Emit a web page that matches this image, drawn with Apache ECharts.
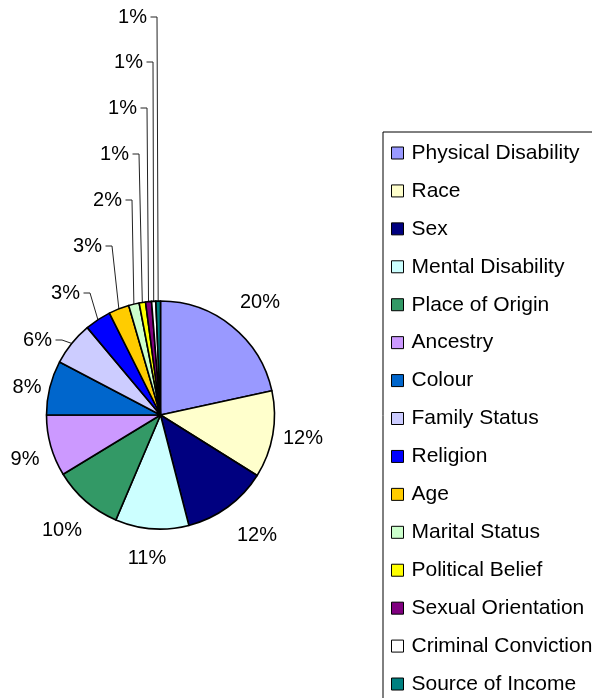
<!DOCTYPE html>
<html>
<head>
<meta charset="utf-8">
<script src="https://cdn.jsdelivr.net/npm/echarts@6/dist/echarts.min.js"></script>
<style>
html,body{margin:0;padding:0;background:#fff;}
#chart{width:592px;height:698px;}
</style>
</head>
<body>
<div id="chart"></div>
<script>
const categories = ['Physical Disability','Race','Sex','Mental Disability','Place of Origin','Ancestry','Colour','Family Status','Religion','Age','Marital Status','Political Belief','Sexual Orientation','Criminal Conviction','Source of Income'];
const values = [21.6, 12.3, 12.1, 10.4, 9.9, 8.7, 7.7, 6.2, 3.7, 2.9, 1.5, 0.9, 0.85, 0.6, 0.65];
// percentage labels as printed on the chart
const pctLabels = ['20%','12%','12%','11%','10%','9%','8%','6%','3%','3%','2%','1%','1%','1%','1%'];
const colors = ['#9999FF','#FFFFCC','#000080','#CCFFFF','#339966','#CC99FF','#0066CC','#CCCCFF','#0000FF','#FFCC00','#CCFFCC','#FFFF00','#800080','#FFFFFF','#008080'];

// label layout (style): [x, y, align, hasLeader]
const labelPos = [
  [260,302,'center',false],[303,438,'center',false],[257,535,'center',false],[147,558,'center',false],
  [62,530,'center',false],[25,459,'center',false],[27,387,'center',false],[52,340,'right',true],
  [80,293,'right',true],[102,246,'right',true],[122,200,'right',true],[129,154,'right',true],
  [137,108,'right',true],[143,62,'right',true],[147,17,'right',true]
];

const FONT = '"Liberation Sans", Arial, sans-serif';
const chart = echarts.init(document.getElementById('chart'), null, {renderer:'canvas'});
const data = categories.map((n,i)=>({
  name:n, value:values[i],
  itemStyle:{color:colors[i]},
  labelLine:{show:labelPos[i][3]}
}));
const CX = 160.5, CY = 415, R = 114;
chart.setOption({
  animation:false,
  backgroundColor:'#fff',
  legend:{
    orient:'vertical', left:383, top:132, height:800, width:300,
    padding:[10.5,120,20,8],
    borderColor:'#000', borderWidth:1,
    itemWidth:12, itemHeight:12, itemGap:16.93,
    icon:'rect',
    itemStyle:{borderColor:'#000', borderWidth:1},
    textStyle:{color:'#000', fontSize:21, lineHeight:21, fontFamily:FONT, padding:[0,0,0,3]},
    data:categories
  },
  series:[{
    type:'pie',
    center:[CX,CY], radius:R,
    startAngle:90, clockwise:true,
    avoidLabelOverlap:false,
    data:data,
    itemStyle:{borderColor:'#000', borderWidth:1.6},
    emphasis:{disabled:true},
    label:{show:true, position:'outside', color:'#000', fontSize:20, fontFamily:FONT,
      formatter:p=>pctLabels[p.dataIndex]},
    labelLine:{show:true, length:10, length2:10, lineStyle:{color:'#222', width:1}},
    labelLayout:function(p){
      const lp = labelPos[p.dataIndex];
      const res = {x:lp[0], y:lp[1], align:lp[2], verticalAlign:'middle'};
      if (lp[3]) {
        let edge;
        if (p.labelLinePoints && p.labelLinePoints[0]) edge = p.labelLinePoints[0];
        else edge = [lp[0]+12, CY-R];
        res.labelLinePoints = [[edge[0],edge[1]],[lp[0]+10,lp[1]],[lp[0]+3.5,lp[1]]];
      }
      return res;
    }
  }]
});
</script>
</body>
</html>
